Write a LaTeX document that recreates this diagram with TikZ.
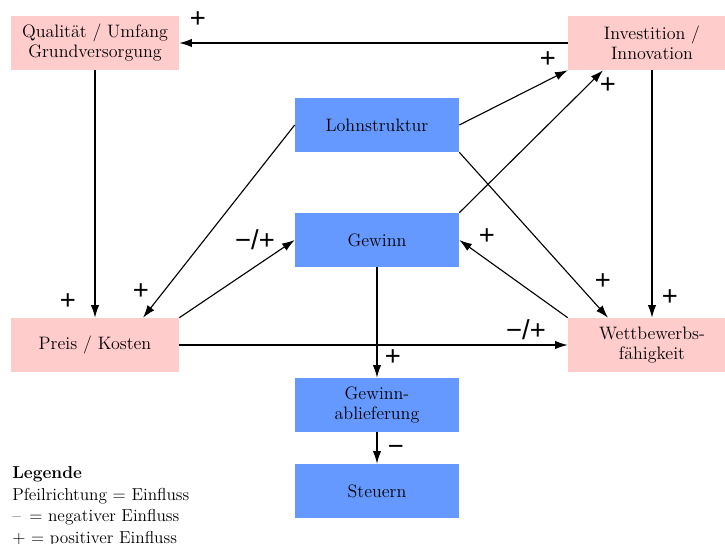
\documentclass[tikz,border=0pt]{standalone}
\usepackage{fontspec}
\usepackage{xcolor}
\usepackage{tikz}
\usetikzlibrary{arrows.meta}

\newfontfamily\signfont{Liberation Sans}
\definecolor{pinkbox}{RGB}{255,204,204}
\definecolor{bluebox}{RGB}{102,153,255}

\begin{document}
\begin{tikzpicture}[x=0.025cm,y=-0.025cm]
                \tikzset{Factor/.style={%
                    shape=rectangle,%
                    fill=pinkbox,%
                    minimum width=4.2cm,%
                    minimum height=1.35cm,%
                    inner sep=0pt,%
                    align=center,%
                    font=\fontsize{12.8}{14.2}\selectfont,%
                }}
                \tikzset{Unit/.style={%
                    Factor,%
                    fill=bluebox,%
                    minimum width=4.1cm,%
                }}
                \tikzset{Sign/.style={%
                    inner sep=0pt,%
                    font=\signfont\fontsize{19.5}{21}\selectfont,%
                }}
                \tikzset{Link/.style={%
                    -{Latex[length=9pt,width=6pt]},%
                    line width=0.8pt,%
                }}

                \useasboundingbox (0,0) rectangle (725,544);

                \node[Factor] (qual) at (95,43) {Qualität / Umfang\\Grundversorgung};
                \node[Factor] (invest) at (652,43) {Investition /\\Innovation};
                \node[Unit] (lohn) at (377,125) {Lohnstruktur};
                \node[Unit] (gewinn) at (377,240) {Gewinn};
                \node[Factor] (preis) at (95,345) {Preis / Kosten};
                \node[Factor] (wett) at (652,345) {Wettbewerbs-\\fähigkeit};
                \node[Unit] (abliefer) at (377,405) {Gewinn-\\ablieferung};
                \node[Unit] (steuern) at (377,491) {Steuern};

                \path (invest.west) edge[Link] (qual.east);
                \path (qual.south) edge[Link] (preis.north);
                \path (lohn.west) edge[Link] ([xshift=1.2cm]preis.north);
                \path (preis.north east) edge[Link] (gewinn.west);
                \path (lohn.east) edge[Link] (invest.south west);
                \path (gewinn.north east) edge[Link] ([xshift=-1.225cm]invest.south);
                \path (lohn.south east) edge[Link] ([xshift=-1.1cm]wett.north);
                \path (wett.north west) edge[Link] (gewinn.east);
                \path (invest.south) edge[Link] (wett.north);
                \path (preis.east) edge[Link] (wett.west);
                \path (gewinn.south) edge[Link] (abliefer.north);
                \path (abliefer.south) edge[Link] (steuern.north);

                \node[Sign] (s1) at (198,20) {+};
                \node[Sign] (s2) at (68,302) {+};
                \node[Sign] (s3) at (141,292) {+};
                \node[Sign] (s4) at (255,240) {−/+};
                \node[Sign] (s5) at (548,60) {+};
                \node[Sign] (s6) at (608,86) {+};
                \node[Sign] (s7) at (603,282) {+};
                \node[Sign] (s8) at (487,237) {+};
                \node[Sign] (s9) at (670,298) {+};
                \node[Sign] (s10) at (526,330) {−/+};
                \node[Sign] (s11) at (393,358) {+};
                \node[Sign] (s12) at (396,450) {−};

                \node[anchor=north west, inner sep=0pt, align=left,
                      font=\fontsize{12.3}{15.5}\selectfont] (legende) at (12,466)
                    {\textbf{Legende}\\Pfeilrichtung = Einfluss\\--\ \,= negativer Einfluss\\+ = positiver Einfluss};
            \end{tikzpicture}
\end{document}
